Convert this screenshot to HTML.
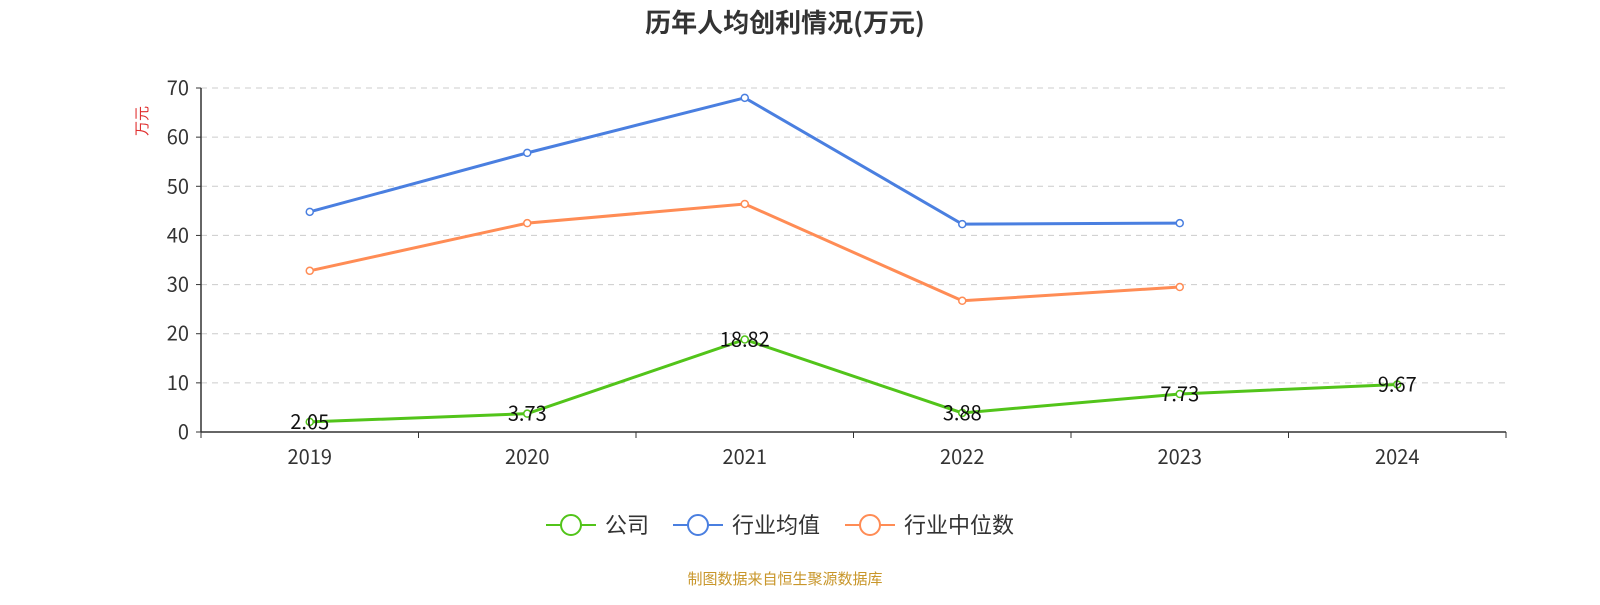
<!DOCTYPE html>
<html><head><meta charset="utf-8"><style>
body{margin:0;background:#fff;}
svg text{font-family:"Noto Sans CJK SC","Liberation Sans",sans-serif;}
</style></head><body>
<svg id="chart" width="1600" height="600" xmlns="http://www.w3.org/2000/svg">
<text x="785" y="32" text-anchor="middle" font-size="26" font-weight="bold" fill="#333">历年人均创利情况(万元)</text>
<text transform="translate(147,121) rotate(-90)" text-anchor="middle" font-size="15" fill="#e03030">万元</text>
<g id="grid"></g><g id="axes"></g><g id="series"></g>
<g>
<g><line x1="546" y1="525" x2="596" y2="525" stroke="#52c41a" stroke-width="2"/><circle cx="571" cy="525" r="10" fill="#fff" stroke="#52c41a" stroke-width="2"/><text x="605" y="533" font-size="22" fill="#333">公司</text></g>
<g><line x1="673" y1="525" x2="723" y2="525" stroke="#4a7fe0" stroke-width="2"/><circle cx="698" cy="525" r="10" fill="#fff" stroke="#4a7fe0" stroke-width="2"/><text x="732" y="533" font-size="22" fill="#333">行业均值</text></g>
<g><line x1="845" y1="525" x2="895" y2="525" stroke="#ff8c55" stroke-width="2"/><circle cx="870" cy="525" r="10" fill="#fff" stroke="#ff8c55" stroke-width="2"/><text x="904" y="533" font-size="22" fill="#333">行业中位数</text></g>
</g>
<text x="785" y="584" text-anchor="middle" font-size="15" fill="#c8962a">制图数据来自恒生聚源数据库</text>
</svg>
<script>
const categories=["2019","2020","2021","2022","2023","2024"];
const company=[2.05,3.73,18.82,3.88,7.73,9.67];
const industryMean=[44.8,56.8,68.0,42.3,42.5,null];
const industryMedian=[32.8,42.5,46.4,26.7,29.5,null];
const yTicks=[0,10,20,30,40,50,60,70];
const NS="http://www.w3.org/2000/svg";
const x0=201,x1=1506,yb=432,yt=88,ymax=70;
const bw=(x1-x0)/categories.length;
const xs=i=>x0+bw*(i+0.5);
const ys=v=>yb-(v/ymax)*(yb-yt);
function mk(p,t,a){const e=document.createElementNS(NS,t);for(const k in a)e.setAttribute(k,a[k]);p.appendChild(e);return e;}
const grid=document.getElementById('grid'),axes=document.getElementById('axes'),ser=document.getElementById('series');
yTicks.forEach(v=>{
 if(v>0){const l=mk(grid,'line',{x1:x0,x2:x1,y1:ys(v),y2:ys(v),stroke:'#ccc','stroke-dasharray':'6,5'});
 
 }
 mk(axes,'line',{x1:x0-5,x2:x0,y1:ys(v),y2:ys(v),stroke:'#333'});
 const t=mk(axes,'text',{x:x0-12,y:ys(v)+7,'text-anchor':'end','font-size':20,fill:'#333'});t.textContent=v;
 
 
});
mk(axes,'line',{x1:x0,x2:x0,y1:yt,y2:yb,stroke:'#333','stroke-width':1.5});
mk(axes,'line',{x1:x0,x2:x1,y1:yb,y2:yb,stroke:'#333','stroke-width':1.5});
for(let i=0;i<=categories.length;i++)mk(axes,'line',{x1:x0+bw*i,x2:x0+bw*i,y1:yb,y2:yb+6,stroke:'#333'});
categories.forEach((c,i)=>{const t=mk(axes,'text',{x:xs(i),y:yb+32,'text-anchor':'middle','font-size':20,fill:'#333'});t.textContent=c;
 
 });
function drawSeries(vals,color,name,labels){
 const pts=[];vals.forEach((v,i)=>{if(v!==null)pts.push([xs(i),ys(v),v]);});
 const p=mk(ser,'polyline',{points:pts.map(q=>q[0]+','+q[1]).join(' '),fill:'none',stroke:color,'stroke-width':3});
 
 
 pts.forEach(q=>{const c=mk(ser,'circle',{cx:q[0],cy:q[1],r:3.5,fill:'#fff',stroke:color,'stroke-width':1.5});
  
  
  if(labels){const t=mk(ser,'text',{x:q[0],y:q[1]+7,'text-anchor':'middle','font-size':20,fill:'#111'});t.textContent=q[2].toFixed(2);
   
   }
 });
}
drawSeries(industryMean,'#4a7fe0','industry-mean',false);
drawSeries(industryMedian,'#ff8c55','industry-median',false);
drawSeries(company,'#52c41a','company',true);
</script>
</body></html>
